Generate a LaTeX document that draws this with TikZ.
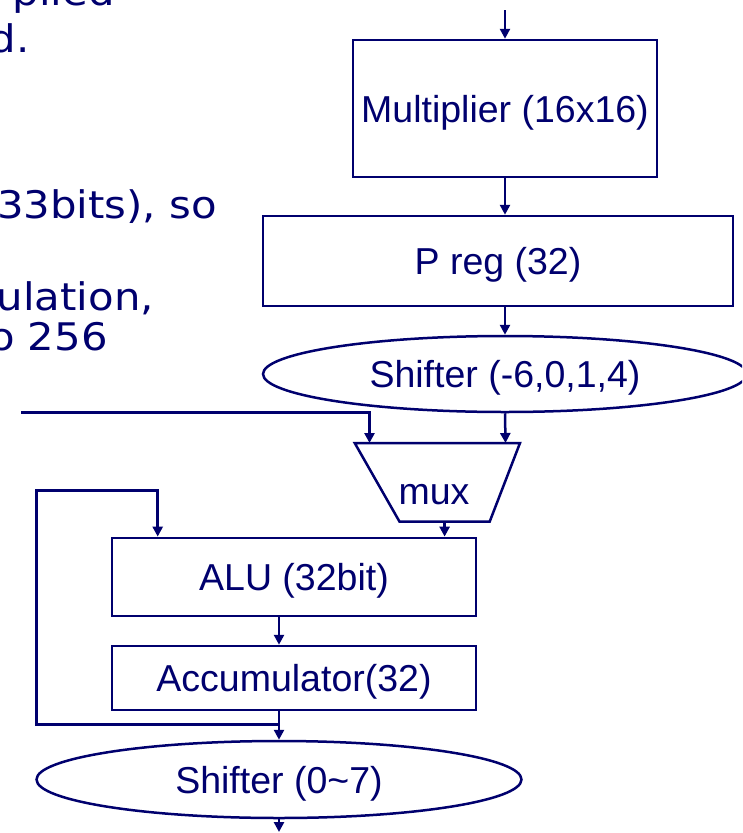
\documentclass[tikz,border=0pt]{standalone}
\usepackage{fontspec}
\setmainfont{Liberation Sans}
\newfontfamily\notefont[FakeStretch=1.1]{DejaVu Sans}
\usetikzlibrary{arrows.meta,shapes.geometric}
\definecolor{navy}{RGB}{0,0,110}

\begin{document}
\begin{tikzpicture}[x=1pt,y=-1pt,
  wire/.style={draw=navy,line width=2.5pt},
  arr/.style={wire,-{Triangle[length=10pt,width=10pt]}},
  lbl/.style={text=navy,font=\fontsize{37.5}{41}\selectfont,
    text height=27.5pt,text depth=0pt,inner sep=0pt},
  blk/.style={lbl,wire,rectangle},
  oval/.style={lbl,wire,ellipse},
  note/.style={text=navy,font=\notefont\fontsize{38}{40}\selectfont,
    anchor=base east,inner sep=0pt}]

\useasboundingbox (0,0) rectangle (742,833);
\fill[white] (0,0) rectangle (742,833);
\clip (0,0) rectangle (742,833);

% fragments of the slide text on the left
\node[note] (t1) at (115,5)   {plied};
\node[note] (t2) at (30,52)   {d.};
\node[note] (t3) at (217,218) {33bits), so};
\node[note] (t4) at (154,310) {ulation,};
\node[note] (t5) at (108,350) {o 256};

% upper data path
\coordinate (in) at (505,10);
\node[blk,minimum width=304pt,minimum height=137pt] (mult) at (505,108.5) {Multiplier (16x16)};
\node[blk,minimum width=470pt,minimum height=90pt] (preg) at (498,261) {P reg (32)};
\node[oval,minimum width=484pt,minimum height=76pt] (sh1) at (505,374) {Shifter (-6,0,1,4)};

% multiplexer
\draw[wire] (354.7,443) -- (520,443) -- (489.7,521.6) -- (399.5,521.6) -- cycle;
\node[lbl] (mux) at (434,491) {mux};
\coordinate (muxA) at (369.5,443);
\coordinate (muxB) at (505.5,443);
\coordinate (muxout) at (444.6,521.6);
\coordinate (lin) at (21,412.7);

% lower data path
\node[blk,minimum width=364pt,minimum height=78.3pt] (alu) at (294,577) {ALU (32bit)};
\node[blk,minimum width=364pt,minimum height=64pt] (acc) at (294,678) {Accumulator(32)};
\node[oval,minimum width=485pt,minimum height=77pt] (sh2) at (279,779.5) {Shifter (0\textasciitilde 7)};
\coordinate (out) at (279,832);
\coordinate (fb) at (279,724.4);
\coordinate (fbcorner) at (36.5,490.6);
\coordinate (fbin) at (157.7,490.6);

% connectors
\draw[arr] (in) -- (mult.north);
\draw[arr] (mult.south) -- (mult.south |- preg.north);
\draw[arr] (sh1.north |- preg.south) -- (sh1.north);
\draw[arr] (lin) -| (muxA);
\draw[arr] (sh1.north |- sh1.south) -- (muxB);
\draw[arr] (muxout) -- (muxout |- alu.north);
\draw[arr] (sh2.north |- alu.south) -- (sh2.north |- acc.north);
\draw[arr] (sh2.north |- acc.south) -- (sh2.north);
\draw[arr] (fb) -| (fbcorner) -- (fbin) -- (fbin |- alu.north);
\draw[arr] (sh2.south) -- (out);
\end{tikzpicture}
\end{document}
